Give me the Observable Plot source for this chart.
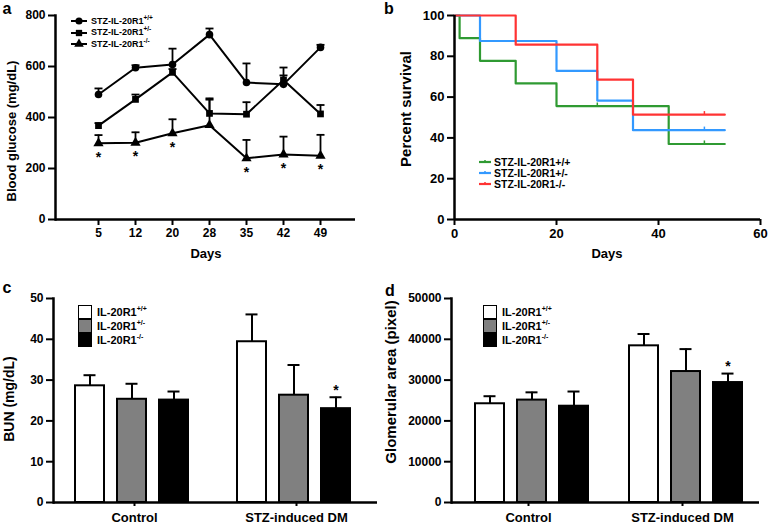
<!DOCTYPE html>
<html>
<head>
<meta charset="utf-8">
<script src="https://cdn.jsdelivr.net/npm/d3@7"></script>
<script src="https://cdn.jsdelivr.net/npm/@observablehq/plot@0.6"></script>
<style>
  body { margin: 0; background: #fff; }
  #root { position: relative; width: 768px; height: 525px; overflow: hidden; background: #fff;
          font-family: "Liberation Sans", Arial, sans-serif; color: #000; }
  .panel { position: absolute; }
  .t { position: absolute; font-weight: bold; white-space: nowrap; line-height: 1; }
  .yt { transform: translate(-50%, -50%) rotate(-90deg); }
  .ct { transform: translate(-50%, -50%); }
  .leg { position: absolute; font-weight: bold; white-space: nowrap; }
  .row { position: absolute; display: flex; align-items: center; line-height: 1; }
  .sw { box-sizing: border-box; border: 1.6px solid #000; }
  sup { line-height: 0; }
</style>
</head>
<body>
<div id="root"></div>
<script>
// ---------- Panel a: blood glucose ----------
const days = [5, 12, 20, 28, 35, 42, 49];
const seriesA = ["STZ-IL-20R1+/+", "STZ-IL-20R1+/-", "STZ-IL-20R1-/-"];
const glucWT = [490, 595, 608, 725, 537, 530, 675];
const glucWTsem = [24, 10, 62, 24, 75, 35, 10];
const glucHet = [368, 471, 577, 416, 413, 547, 414];
const glucHetSem = [10, 19, 13, 59, 47, 49, 35];
const glucKO = [299, 301, 338, 370, 240, 255, 250];
const glucKOsem = [32, 41, 55, 100, 72, 70, 82];
const glucKOsig = [true, true, true, false, true, true, true];
const glucTicks = [0, 200, 400, 600, 800];

// ---------- Panel b: survival ----------
const survSeries = ["STZ-IL-20R1+/+", "STZ-IL-20R1+/-", "STZ-IL-20R1-/-"];
const survColors = ["#2f9a32", "#3399ff", "#ff3333"];
const survWTdays = [0, 1, 5, 12, 20, 42, 53];
const survWTpct = [100, 88.9, 77.8, 66.7, 55.6, 37.0, 37.0];
const survHetDays = [0, 5, 20, 28, 35, 53];
const survHetPct = [100, 87.5, 72.9, 58.3, 43.8, 43.8];
const survKOdays = [0, 12, 28, 35, 53];
const survKOpct = [100, 85.7, 68.6, 51.4, 51.4];
const censWTdays = [28, 49], censWTpct = [55.6, 37.0];
const censHetDays = [49], censHetPct = [43.8];
const censKOdays = [49], censKOpct = [51.4];
const survXTicks = [0, 20, 40, 60];
const survYTicks = [0, 20, 40, 60, 80, 100];

// ---------- Panels c, d: bars ----------
const conds = ["Control", "STZ-induced DM"];
const genos = ["IL-20R1+/+", "IL-20R1+/-", "IL-20R1-/-"];
const genoFills = ["#ffffff", "#808080", "#000000"];
const bunControl = [28.6, 25.3, 25.1];
const bunControlSem = [2.6, 3.8, 2.1];
const bunSTZ = [39.4, 26.3, 23.0];
const bunSTZsem = [6.7, 7.4, 2.8];
const bunSig = [[false, false, false], [false, false, true]];
const bunTicks = [0, 10, 20, 30, 40, 50];
const gloControl = [24200, 25100, 23600];
const gloControlSem = [1850, 1900, 3600];
const gloSTZ = [38400, 32100, 29400];
const gloSTZsem = [2900, 5500, 2200];
const gloSig = [[false, false, false], [false, false, true]];
const gloTicks = [0, 10000, 20000, 30000, 40000, 50000];

const FONT = "'Liberation Sans', Arial, sans-serif";
const root = document.getElementById("root");
function place(el, left, top) {
  const d = document.createElement("div");
  d.className = "panel"; d.style.left = left + "px"; d.style.top = top + "px";
  d.appendChild(el); root.appendChild(d);
}
function label(text, x, y, size, cls) {
  const d = document.createElement("div");
  d.className = "t " + cls; d.style.left = x + "px"; d.style.top = y + "px";
  d.style.fontSize = size + "px"; d.innerHTML = text; root.appendChild(d);
}
const capSymbol = { draw(ctx, size) { const w = Math.sqrt(size / Math.PI); ctx.moveTo(-w, 0); ctx.lineTo(w, 0); } };
const baseStyle = { fontFamily: FONT, fontSize: "12px", fontWeight: "bold", background: "transparent", color: "#000", overflow: "visible" };

// ---- a ----
const glucVals = [glucWT, glucHet, glucKO], glucSems = [glucWTsem, glucHetSem, glucKOsem];
const rowsA = seriesA.flatMap((s, k) => days.map((d, i) => ({
  series: s, day: d, value: glucVals[k][i], sem: glucSems[k][i], sig: k === 2 && glucKOsig[i]
})));
const plotA = Plot.plot({
  width: 384, height: 262, marginLeft: 55, marginRight: 29, marginTop: 15, marginBottom: 43,
  style: baseStyle,
  x: { type: "point", domain: days, range: [78, 340] },
  y: { domain: [0, 800] },
  symbol: { domain: seriesA, range: [d3.symbolCircle, d3.symbolSquare, d3.symbolTriangle] },
  marks: [
    Plot.ruleX(rowsA, { x: "day", y1: "value", y2: d => d.value + d.sem, stroke: "#000", strokeWidth: 1.8 }),
    Plot.dot(rowsA, { x: "day", y: d => d.value + d.sem, symbol: capSymbol, r: 4, stroke: "#000", fill: "none", strokeWidth: 1.8 }),
    Plot.line(rowsA, { x: "day", y: "value", z: "series", stroke: "#000", strokeWidth: 2 }),
    Plot.dot(rowsA, { x: "day", y: "value", symbol: "series", r: 3.8, fill: "#000", stroke: "none" }),
    Plot.text(rowsA.filter(d => d.sig), { x: "day", y: "value", text: () => "*", dy: 14, fontSize: 14 }),
    Plot.ruleY([0], { stroke: "#000", strokeWidth: 2.5 }),
    Plot.frame({ anchor: "left", stroke: "#000", strokeWidth: 2.5 }),
    Plot.axisY({ ticks: glucTicks, tickSize: 7, tickPadding: 3, strokeWidth: 2, label: null, tickFormat: d => String(d) }),
    Plot.axisX({ tickSize: 6, tickPadding: 3, strokeWidth: 2, label: null })
  ]
});
place(plotA, 0, 0);

// ---- b ----
const survDays = [survWTdays, survHetDays, survKOdays], survPct = [survWTpct, survHetPct, survKOpct];
const rowsB = survSeries.flatMap((s, k) => survDays[k].map((d, i) => ({ series: s, day: d, pct: survPct[k][i] })));
const censDays = [censWTdays, censHetDays, censKOdays], censPct = [censWTpct, censHetPct, censKOpct];
const censB = survSeries.flatMap((s, k) => censDays[k].map((d, i) => ({ series: s, day: d, pct: censPct[k][i] })));
const plotB = Plot.plot({
  width: 384, height: 262, marginLeft: 70, marginRight: 8, marginTop: 15, marginBottom: 43,
  style: { ...baseStyle, fontSize: "13px" },
  x: { domain: [0, 60] },
  y: { domain: [0, 100] },
  color: { domain: survSeries, range: survColors },
  marks: [
    Plot.line(rowsB, { x: "day", y: "pct", z: "series", stroke: "series", curve: "step-after", strokeWidth: 2.2 }),
    Plot.ruleX(censB, { x: "day", y1: "pct", y2: d => d.pct + 1.5, stroke: "series", strokeWidth: 1.5 }),
    Plot.ruleY([0], { stroke: "#000", strokeWidth: 2.5 }),
    Plot.ruleX([0], { stroke: "#000", strokeWidth: 2.5 }),
    Plot.axisY({ ticks: survYTicks, tickSize: 7, tickPadding: 3, strokeWidth: 2, label: null }),
    Plot.axisX({ ticks: survXTicks, tickSize: 6, tickPadding: 3, strokeWidth: 2, label: null })
  ]
});
place(plotB, 384, 0);

// ---- c, d ----
function barRows(ctrl, ctrlSem, stz, stzSem, sig) {
  const vals = [ctrl, stz], sems = [ctrlSem, stzSem];
  return conds.flatMap((c, i) => genos.map((g, j) => ({ cond: c, geno: g, value: vals[i][j], sem: sems[i][j], sig: sig[i][j] })));
}
function barPlot(rows, opts) {
  return Plot.plot({
    width: 384, height: 263, marginLeft: opts.ml, marginRight: opts.mr, marginTop: 36, marginBottom: 23,
    style: baseStyle,
    facet: { data: rows, x: "cond" },
    fx: { domain: conds, padding: 0, label: null },
    x: { domain: genos, paddingInner: 0.31, paddingOuter: opts.po, align: opts.align, axis: null },
    y: { domain: opts.domain },
    color: { domain: genos, range: genoFills },
    marks: [
      Plot.ruleX(rows, { x: "geno", y1: "value", y2: d => d.value + d.sem, stroke: "#000", strokeWidth: 2 }),
      Plot.tickY(rows, { x: "geno", y: d => d.value + d.sem, stroke: "#000", strokeWidth: 2, insetLeft: 8.5, insetRight: 8.5 }),
      Plot.barY(rows, { x: "geno", y: "value", fill: "geno", stroke: "#000", strokeWidth: 2 }),
      Plot.text(rows, { x: "geno", y: d => d.value + d.sem, text: d => d.sig ? "*" : "", dy: -7, fontSize: 14 }),
      Plot.ruleY([0], { stroke: "#000", strokeWidth: 2.5 }),
      Plot.frame({ anchor: "left", facetAnchor: "left", stroke: "#000", strokeWidth: 2.5 }),
      Plot.axisY({ ticks: opts.ticks, tickSize: 7, tickPadding: 3, strokeWidth: 2, label: null, tickFormat: d => String(d) }),
      Plot.axisFx({ anchor: "bottom", tickSize: 4, tickPadding: 6, strokeWidth: 2, label: null, fontSize: 13 })
    ]
  });
}
const rowsC = barRows(bunControl, bunControlSem, bunSTZ, bunSTZsem, bunSig);
place(barPlot(rowsC, { ml: 53, mr: 7, po: 0.583, align: 0.44, domain: [0, 50], ticks: bunTicks }), 0, 262);
const rowsD = barRows(gloControl, gloControlSem, gloSTZ, gloSTZsem, gloSig);
place(barPlot(rowsD, { ml: 67, mr: 9, po: 0.488, align: 0.585, domain: [0, 50000], ticks: gloTicks }), 384, 262);

// ---- text overlays ----
label("a", 7, 9, 16, "ct"); label("b", 389, 9, 16, "ct");
label("c", 7, 288, 16, "ct"); label("d", 390, 291, 16, "ct");
label("Blood glucose (mg/dL)", 11, 131, 13, "yt");
label("Percent survival", 405, 109, 15, "yt");
label("BUN (mg/dL)", 9, 399, 14, "yt");
label("Glomerular area (pixel)", 390, 382, 15, "yt");
label("Days", 206, 253, 13, "ct");
label("Days", 607, 253, 13, "ct");

// ---- legends ----
function legendA() {
  const shapes = [d3.symbolCircle, d3.symbolSquare, d3.symbolTriangle];
  const sups = ["+/+", "+/-", "-/-"];
  const centers = [21, 32.5, 44];
  seriesA.forEach((s, k) => {
    const r = document.createElement("div");
    r.className = "row leg"; r.style.left = "70px"; r.style.top = (centers[k] - 6) + "px"; r.style.height = "12px"; r.style.fontSize = "9px";
    const path = d3.symbol(shapes[k], 40)();
    r.innerHTML = `<svg width="18" height="12" style="margin-right:3px"><line x1="1" x2="17" y1="6" y2="6" stroke="#000" stroke-width="2"/><path d="${path}" transform="translate(9,6)" fill="#000"/></svg>` +
      `<span>STZ-IL-20R1<sup style="font-size:6.5px">${sups[k]}</sup></span>`;
    root.appendChild(r);
  });
}
function legendB() {
  const centers = [162, 173, 184];
  survSeries.forEach((s, k) => {
    const r = document.createElement("div");
    r.className = "row leg"; r.style.left = "479px"; r.style.top = (centers[k] - 6) + "px"; r.style.height = "12px"; r.style.fontSize = "10.5px";
    r.innerHTML = `<svg width="13" height="12" style="margin-right:2px"><line x1="0" x2="12" y1="6" y2="6" stroke="${survColors[k]}" stroke-width="2.2"/><line x1="6" x2="6" y1="6" y2="4" stroke="${survColors[k]}" stroke-width="1.5"/></svg><span>${s}</span>`;
    root.appendChild(r);
  });
}
function legendBars(left) {
  const sups = ["+/+", "+/-", "-/-"];
  const tops = [305, 319, 333];
  genos.forEach((g, k) => {
    const r = document.createElement("div");
    r.className = "row leg"; r.style.left = left + "px"; r.style.top = tops[k] + "px"; r.style.height = "14px"; r.style.fontSize = "11px";
    r.innerHTML = `<div class="sw" style="width:14px;height:14px;background:${genoFills[k]};margin-right:5px"></div><span>IL-20R1<sup style="font-size:7px">${sups[k]}</sup></span>`;
    root.appendChild(r);
  });
}
legendA(); legendB(); legendBars(78); legendBars(483);
</script>
</body>
</html>
